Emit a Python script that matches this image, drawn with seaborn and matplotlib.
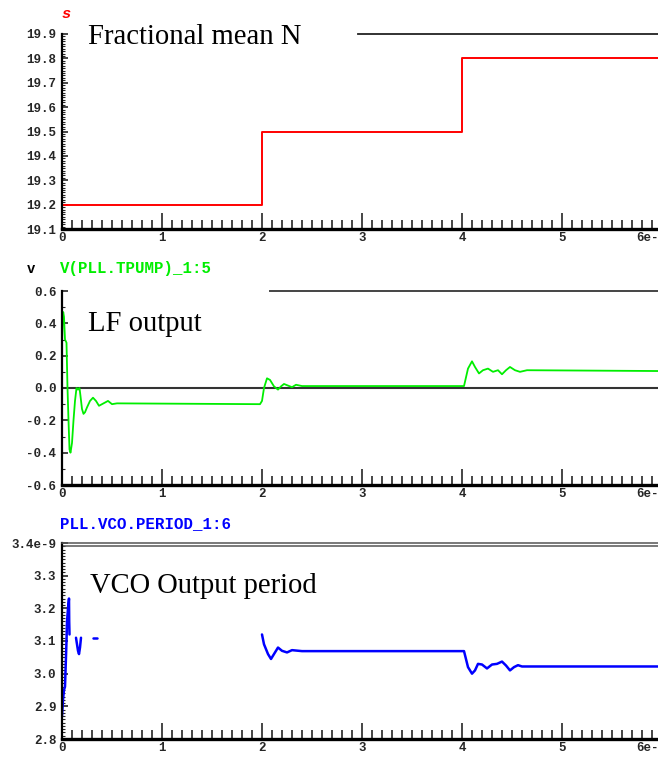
import matplotlib
matplotlib.use('Agg')
import matplotlib.pyplot as plt
from matplotlib.ticker import MultipleLocator
import pandas as pd
import seaborn as sns

# Fractional mean N (step)
frac_t = [0.0, 2.0, 4.0, 5.96]
frac_v = [19.2, 19.5, 19.8, 19.8]

# LF output V(PLL.TPUMP)
lf_t = [0.0, 0.005, 0.012, 0.02, 0.03, 0.045, 0.055, 0.065, 0.075, 0.085, 0.10, 0.115,
        0.13, 0.145, 0.16, 0.175, 0.185, 0.20, 0.215, 0.23, 0.25, 0.28, 0.31, 0.34,
        0.37, 0.40, 0.43, 0.46, 0.50, 0.55, 1.98, 2.00, 2.02, 2.05, 2.08, 2.12, 2.16,
        2.19, 2.22, 2.26, 2.30, 2.34, 2.40, 4.02, 4.06, 4.10, 4.13, 4.17, 4.21, 4.26,
        4.31, 4.36, 4.40, 4.44, 4.48, 4.53, 4.58, 4.65, 5.96]
lf_v = [0.27, 0.40, 0.47, 0.44, 0.30, 0.28, 0.0, -0.20, -0.38, -0.40, -0.34, -0.20,
        -0.08, 0.0, -0.01, 0.0, -0.05, -0.13, -0.16, -0.15, -0.12, -0.08, -0.06, -0.08,
        -0.11, -0.10, -0.09, -0.08, -0.10, -0.095, -0.10, -0.08, 0.0, 0.06, 0.05, 0.01, -0.01,
        0.01, 0.025, 0.015, 0.005, 0.02, 0.012, 0.012, 0.12, 0.165, 0.13, 0.09, 0.11, 0.12,
        0.10, 0.11, 0.085, 0.11, 0.13, 0.11, 0.10, 0.11, 0.105]

# VCO output period (ns), trace has gaps -> segments
vco_seg = [0] * 10 + [1] * 5 + [2] * 2 + [3] * 26
vco_t = [0.0, 0.01, 0.02, 0.03, 0.045, 0.05, 0.06, 0.07, 0.072, 0.075,
         0.14, 0.16, 0.17, 0.18, 0.19,
         0.31, 0.35,
         2.00, 2.02, 2.06, 2.09, 2.12, 2.16, 2.20, 2.25, 2.30, 2.40, 4.02, 4.06, 4.10,
         4.13, 4.16, 4.20, 4.25, 4.30, 4.35, 4.40, 4.44, 4.48, 4.52, 4.56, 4.60, 5.96]
vco_v = [2.87, 2.92, 2.95, 2.96, 3.10, 3.16, 3.20, 3.23, 3.16, 3.12,
         3.11, 3.07, 3.06, 3.08, 3.11,
         3.11, 3.11,
         3.12, 3.09, 3.06, 3.045, 3.06, 3.08, 3.07, 3.065, 3.072, 3.069, 3.069, 3.02, 3.00,
         3.01, 3.03, 3.028, 3.016, 3.028, 3.03, 3.037, 3.025, 3.01, 3.02, 3.026, 3.022, 3.022]

x_labels = ['0', '1', '2', '3', '4', '5']

sns.set_style('white')
plt.rcParams['font.family'] = ['Liberation Mono', 'DejaVu Sans Mono']

W, H = 658, 762
fig = plt.figure(figsize=(W / 100, H / 100), dpi=100)


def px_axes(top, bottom):
    return fig.add_axes([62 / W, 1 - bottom / H, (W - 62) / W, (bottom - top) / H])


def style_axis(ax, ylim, yticks, ylabels, yminor):
    ax.set_xlim(0, 5.96)
    ax.set_ylim(*ylim)
    ax.set_xticks(range(6))
    ax.set_xticklabels(x_labels)
    ax.xaxis.set_minor_locator(MultipleLocator(0.1))
    ax.set_yticks(yticks)
    ax.set_yticklabels(ylabels)
    ax.yaxis.set_minor_locator(MultipleLocator(yminor))
    ax.tick_params(axis='x', which='major', direction='in', length=11.5, width=1.2,
                   pad=2.5, labelsize=9, bottom=True)
    ax.tick_params(axis='x', which='minor', direction='in', length=6.5, width=1.2, bottom=True)
    ax.tick_params(axis='y', which='major', direction='in', length=4.5, width=1.2,
                   pad=4, labelsize=9, left=True)
    ax.tick_params(axis='y', which='minor', direction='in', length=2.2, width=0.8, left=True)
    for lab in ax.get_xticklabels() + ax.get_yticklabels():
        lab.set_fontweight('bold')
    ax.spines['right'].set_visible(False)
    ax.spines['left'].set_linewidth(1.6)
    ax.spines['left'].set_color('black')
    ax.spines['bottom'].set_linewidth(2.4)
    ax.spines['bottom'].set_color('black')
    ax.set_xlabel('')
    ax.set_ylabel('')
    ax.annotate('6e-', xy=(5.74, 0), xycoords=ax.get_xaxis_transform(),
                xytext=(0, -2.5), textcoords='offset points', va='top', ha='left',
                fontsize=9, fontweight='bold')


# Panel 1
ax1 = px_axes(34, 229)
df1 = pd.DataFrame({'t': frac_t, 'v': frac_v})
sns.lineplot(data=df1, x='t', y='v', color='#ff0000', lw=1.4, drawstyle='steps-post',
             estimator=None, sort=False, ax=ax1)
style_axis(ax1, (19.1, 19.9), [19.1 + 0.1 * i for i in range(9)],
           ['19.1', '19.2', '19.3', '19.4', '19.5', '19.6', '19.7', '19.8', '19.9'], 0.01)
ax1.spines['top'].set_bounds(2.96, 5.96)
ax1.spines['top'].set_color('#222222')
ax1.spines['top'].set_linewidth(1.3)

# Panel 2
ax2 = px_axes(291, 485)
df2 = pd.DataFrame({'t': lf_t, 'v': lf_v})
sns.lineplot(data=df2, x='t', y='v', color='#00ee00', lw=1.3, estimator=None, sort=False, ax=ax2)
ax2.axhline(0, color='#333333', lw=1.5, zorder=1)
style_axis(ax2, (-0.6, 0.6), [-0.6, -0.4, -0.2, 0.0, 0.2, 0.4, 0.6],
           ['-0.6', '-0.4', '-0.2', '0.0', '0.2', '0.4', '0.6'], 0.1)
ax2.spines['top'].set_bounds(2.08, 5.96)
ax2.spines['top'].set_color('#444444')
ax2.spines['top'].set_linewidth(1.4)

# Panel 3
ax3 = px_axes(543, 739)
df3 = pd.DataFrame({'t': vco_t, 'v': vco_v, 'seg': vco_seg})
sns.lineplot(data=df3, x='t', y='v', units='seg', estimator=None, sort=False,
             color='#0000ff', lw=1.8, ax=ax3)
style_axis(ax3, (2.8, 3.4), [2.8, 2.9, 3.0, 3.1, 3.2, 3.3, 3.4],
           ['2.8', '2.9', '3.0', '3.1', '3.2', '3.3', '3.4e-9'], 0.01)
ax3.spines['top'].set_color('#555555')
ax3.spines['top'].set_linewidth(1.1)
ax3.axhline(3.392, color='#555555', lw=1.1)

# Trace names
fig.text(61 / W, 1 - 18 / H, 's', color='#ff0000', fontsize=11, fontweight='bold',
         style='italic', va='baseline')
fig.text(27 / W, 1 - 273 / H, 'v', color='black', fontsize=10, fontweight='bold', va='baseline')
fig.text(60 / W, 1 - 273 / H, 'V(PLL.TPUMP)_1:5', color='#00ee00', fontsize=11.3,
         fontweight='bold', va='baseline')
fig.text(60 / W, 1 - 528 / H, 'PLL.VCO.PERIOD_1:6', color='#0000ff', fontsize=11.3,
         fontweight='bold', va='baseline')

# Annotations
serif = dict(family='Liberation Serif', fontsize=20.6, color='black', va='baseline', ha='left')
fig.text(88 / W, 1 - 44 / H, 'Fractional mean N', **serif)
fig.text(88 / W, 1 - 331 / H, 'LF output', **serif)
fig.text(90 / W, 1 - 593 / H, 'VCO Output period', **serif)

fig.savefig('out.png', dpi=100)
